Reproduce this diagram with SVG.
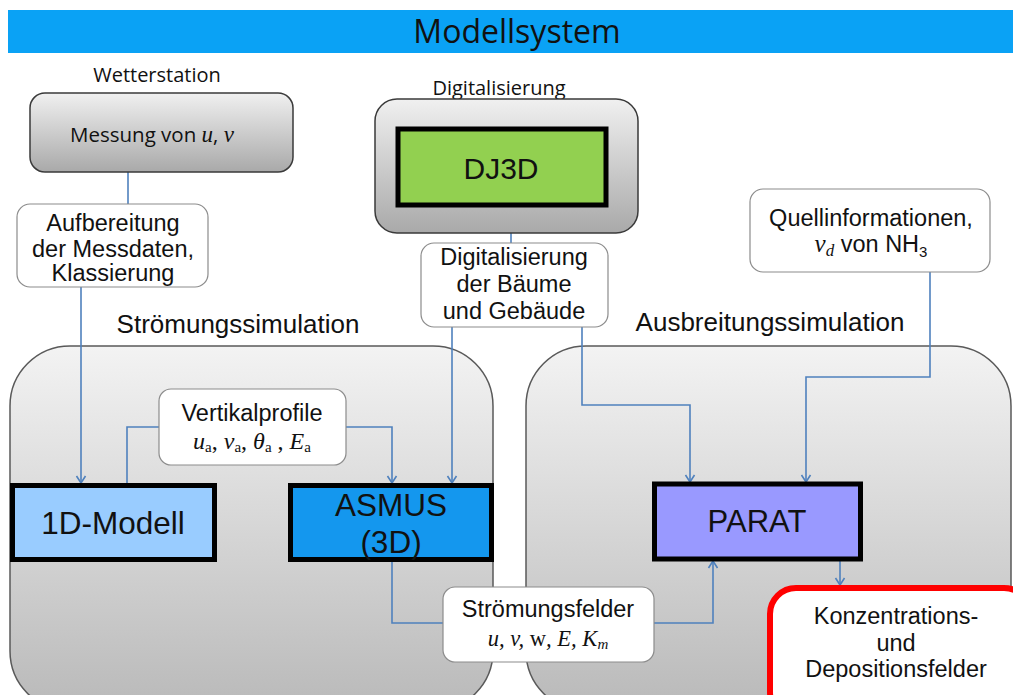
<svg xmlns="http://www.w3.org/2000/svg" width="1013" height="695" viewBox="0 0 1013 695">
<defs>
<linearGradient id="gBig" x1="0" y1="0" x2="0" y2="1"><stop offset="0" stop-color="#f3f3f3"/><stop offset="1" stop-color="#b9b9b9"/></linearGradient>
<linearGradient id="gBox" x1="0" y1="0" x2="0" y2="1"><stop offset="0" stop-color="#f0f0f0"/><stop offset="1" stop-color="#a9a9a9"/></linearGradient>
<marker id="arr" markerWidth="12" markerHeight="12" refX="10" refY="6" orient="auto" markerUnits="userSpaceOnUse"><path d="M3,1.5 L10,6 L3,10.5" fill="none" stroke="#4f81bd" stroke-width="1.6"/></marker>
</defs>
<style>
.cal{font-family:"Open Sans","Noto Sans",sans-serif;fill:#111}
.ar{font-family:"Liberation Sans",Arial,sans-serif;fill:#111;text-anchor:middle}
.m{font-family:"Liberation Serif","Times New Roman",serif;font-style:italic}
.up{font-style:normal}
.big{fill:url(#gBig);stroke:#595959;stroke-width:1.5}
.gbox{fill:url(#gBox);stroke:#3a3a3a;stroke-width:1.5}
.lbl{fill:#fff;stroke:#8c8c8c;stroke-width:1.2}
.mod{stroke:#000;stroke-width:5}
.c{fill:none;stroke:#4f81bd;stroke-width:1.6}
</style>
<rect width="1013" height="695" fill="#fff"/>
<g id="title">
<rect x="8" y="10" width="1005" height="43" fill="#0aa2f5"/>
<text x="517" y="43" class="cal" font-size="32" text-anchor="middle">Modellsystem</text>
</g>
<g id="stroemungssimulation">
<rect x="10" y="346" width="483" height="365" rx="60" class="big"/>
<text x="238" y="333" class="ar" font-size="26">Strömungssimulation</text>
</g>
<g id="ausbreitungssimulation">
<rect x="526" y="346" width="485" height="365" rx="60" class="big"/>
<text x="770" y="331" class="ar" font-size="26">Ausbreitungssimulation</text>
</g>
<g id="connectors">
<path class="c" d="M128,172 V205"/>
<path class="c" d="M81,287 V483" marker-end="url(#arr)"/>
<path class="c" d="M159,427 H127 V483"/>
<path class="c" d="M346,427 H392 V483" marker-end="url(#arr)"/>
<path class="c" d="M511,233 V243"/>
<path class="c" d="M452,327 V483" marker-end="url(#arr)"/>
<path class="c" d="M582,327 V405 H690 V482" marker-end="url(#arr)"/>
<path class="c" d="M930,272 V377 H806 V482" marker-end="url(#arr)"/>
<path class="c" d="M392,562 V623 H443"/>
<path class="c" d="M654,623 H713 V561" marker-end="url(#arr)"/>
<path class="c" d="M840,560 V585" marker-end="url(#arr)"/>
</g>
<g id="wetterstation">
<text x="157" y="82" class="cal" font-size="20" text-anchor="middle">Wetterstation</text>
<rect x="30" y="93" width="263" height="79" rx="15" class="gbox"/>
<text x="152" y="142" class="cal" font-size="20.5" text-anchor="middle">Messung von <tspan class="m" font-size="23">u</tspan>, <tspan class="m" font-size="23">v</tspan></text>
</g>
<g id="aufbereitung">
<rect x="17" y="204" width="191" height="83" rx="13" class="lbl"/>
<text class="ar" font-size="23.5"><tspan x="113" y="231">Aufbereitung</tspan><tspan x="113" y="257">der Messdaten,</tspan><tspan x="113" y="281">Klassierung</tspan></text>
</g>
<g id="dj3d">
<text x="499" y="95" class="cal" font-size="20" text-anchor="middle">Digitalisierung</text>
<rect x="375" y="99" width="263" height="134" rx="22" class="gbox"/>
<rect x="398" y="129" width="208" height="76" fill="#92d050" class="mod"/>
<text x="501" y="179" class="ar" font-size="30">DJ3D</text>
</g>
<g id="digitalisierung">
<rect x="421" y="243" width="187" height="84" rx="13" class="lbl"/>
<text class="ar" font-size="23.5"><tspan x="514" y="265">Digitalisierung</tspan><tspan x="514" y="292">der Bäume</tspan><tspan x="514" y="319">und Gebäude</tspan></text>
</g>
<g id="quellinformationen">
<rect x="750" y="189" width="240" height="83" rx="13" class="lbl"/>
<text class="ar" font-size="23.5"><tspan x="871" y="226">Quellinformationen,</tspan></text>
<text x="871" y="252" class="ar" font-size="23.5"><tspan class="m" font-size="25">v</tspan><tspan class="m" font-size="17" dy="4">d</tspan><tspan dy="-4"> von NH</tspan><tspan font-size="15" dy="5">3</tspan></text>
</g>
<g id="vertikalprofile">
<rect x="159" y="389" width="187" height="76" rx="12" class="lbl"/>
<text x="252" y="421" class="ar" font-size="23.5">Vertikalprofile</text>
<text x="252" y="449" class="m" font-size="24" text-anchor="middle" fill="#111">u<tspan class="up" font-size="15" dy="3">a</tspan><tspan class="up" dy="-3">, </tspan>v<tspan class="up" font-size="15" dy="3">a</tspan><tspan class="up" dy="-3">, </tspan>θ<tspan class="up" font-size="15" dy="3">a</tspan><tspan class="up" dy="-3"> , </tspan>E<tspan class="up" font-size="15" dy="3">a</tspan></text>
</g>
<g id="modell1d">
<rect x="12.5" y="485.5" width="202" height="74" fill="#99ccff" class="mod"/>
<text x="113" y="534" class="ar" font-size="31.5">1D-Modell</text>
</g>
<g id="asmus">
<rect x="290.5" y="485.5" width="201" height="74" fill="#1497ee" class="mod"/>
<text class="ar" font-size="31.5"><tspan x="391" y="516">ASMUS</tspan><tspan x="391" y="553">(3D)</tspan></text>
</g>
<g id="parat">
<rect x="654.5" y="484" width="206" height="75" fill="#9999ff" class="mod"/>
<text x="757" y="532" class="ar" font-size="31">PARAT</text>
</g>
<g id="stroemungsfelder">
<rect x="443" y="587" width="211" height="75" rx="12" class="lbl"/>
<text x="548" y="617" class="ar" font-size="23.5">Strömungsfelder</text>
<text x="548" y="646" class="m" font-size="22.5" text-anchor="middle" fill="#111">u, v, <tspan class="up">w</tspan>, E, K<tspan font-size="15" dy="3">m</tspan></text>
</g>
<g id="konzentration">
<rect x="770" y="588" width="260" height="130" rx="26" fill="#fff" stroke="#ff0000" stroke-width="6"/>
<text class="ar" font-size="23.5"><tspan x="896" y="624">Konzentrations-</tspan><tspan x="896" y="651">und</tspan><tspan x="896" y="677">Depositionsfelder</tspan></text>
</g>
</svg>
